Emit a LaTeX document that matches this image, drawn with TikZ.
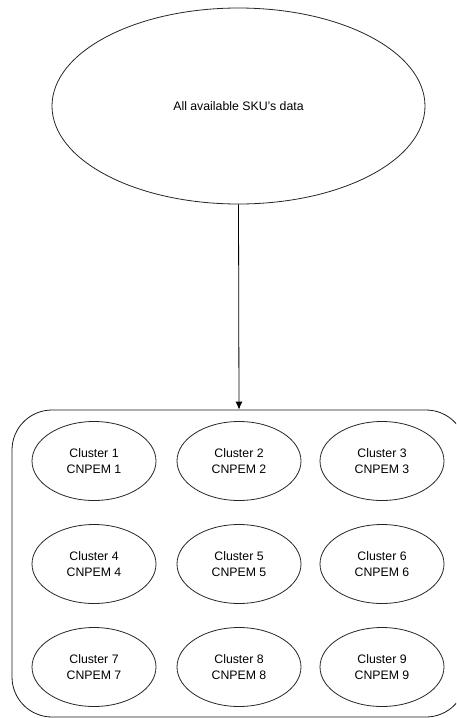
\documentclass[tikz,border=0pt]{standalone}
\usepackage{fontspec}
\setmainfont{Liberation Sans}
\usetikzlibrary{shapes.geometric,arrows.meta}
\tikzset{
  oval/.style={draw=black!85, line width=0.8pt, ellipse, inner sep=0pt,
    align=center, font=\fontsize{12.3}{16}\selectfont},
  cluster/.style={oval, minimum width=124pt, minimum height=79pt},
  group/.style={draw=black!90, line width=0.8pt, rounded corners=40pt,
    minimum width=454pt, minimum height=307pt, inner sep=0pt},
  link/.style={draw=black, line width=0.8pt, -{Latex[length=8pt,width=7pt]}}
}
\begin{document}
\begin{tikzpicture}[x=1pt,y=-1pt]
  \useasboundingbox (0,0) rectangle (456,718);
  \clip (0,0) rectangle (456,718);
  % source data set
  \node[oval, minimum width=373pt, minimum height=196pt] (all) at (238.5,106) {All available SKU's data};
  % container holding the clusters
  \node[group] (box) at (239,563.5) {};
  % clusters in a 3x3 grid
  \node[cluster] (c1) at (94,461)  {Cluster 1\\CNPEM 1};
  \node[cluster] (c2) at (239,461) {Cluster 2\\CNPEM 2};
  \node[cluster] (c3) at (382,461) {Cluster 3\\CNPEM 3};
  \node[cluster] (c4) at (94,564)  {Cluster 4\\CNPEM 4};
  \node[cluster] (c5) at (239,564) {Cluster 5\\CNPEM 5};
  \node[cluster] (c6) at (382,564) {Cluster 6\\CNPEM 6};
  \node[cluster] (c7) at (94,667)  {Cluster 7\\CNPEM 7};
  \node[cluster] (c8) at (239,667) {Cluster 8\\CNPEM 8};
  \node[cluster] (c9) at (382,667) {Cluster 9\\CNPEM 9};
  % split into clusters
  \draw[link] (all.south) -- (box.north);
\end{tikzpicture}
\end{document}
